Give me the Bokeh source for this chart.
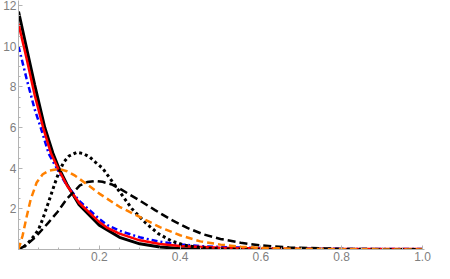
from bokeh.plotting import figure
from bokeh.models import Range1d, FixedTicker, NumeralTickFormatter
from bokeh.embed import file_html
from bokeh.resources import INLINE

# ---- data ----
solid_x = [0, 0.02, 0.04, 0.065, 0.085, 0.1, 0.12, 0.15, 0.2, 0.25, 0.3, 0.35, 0.4, 0.5, 0.6, 0.8, 1.0]
solid_y = [11.7, 9.9, 8.1, 6.0, 4.75, 4.0, 3.2, 2.2, 1.2, 0.6, 0.28, 0.12, 0.05, 0.01, 0.0, 0.0, 0.0]

red_x = [0, 0.02, 0.04, 0.061, 0.08, 0.1, 0.12, 0.15, 0.2, 0.22, 0.25, 0.3, 0.35, 0.4, 0.5, 0.6, 0.8, 1.0]
red_y = [11.1, 9.4, 7.6, 6.0, 4.75, 3.9, 3.15, 2.3, 1.35, 1.06, 0.78, 0.45, 0.27, 0.17, 0.09, 0.05, 0.03, 0.02]

blue_x = [0, 0.02, 0.04, 0.055, 0.075, 0.1, 0.12, 0.15, 0.2, 0.22, 0.25, 0.3, 0.35, 0.4, 0.45, 0.5, 0.6, 0.8, 1.0]
blue_y = [10.0, 8.4, 6.9, 6.0, 4.7, 3.8, 3.15, 2.4, 1.5, 1.2, 0.92, 0.6, 0.38, 0.25, 0.17, 0.12, 0.07, 0.03, 0.02]

orange_x = [0, 0.01, 0.02, 0.03, 0.045, 0.06, 0.075, 0.1, 0.12, 0.14, 0.17, 0.2, 0.22, 0.25, 0.3, 0.35, 0.4,
            0.45, 0.5, 0.55, 0.6, 0.7, 0.8, 1.0]
orange_y = [0, 0.67, 1.6, 2.45, 3.3, 3.7, 3.88, 3.97, 3.85, 3.63, 3.2, 2.75, 2.49, 2.1, 1.6, 1.1, 0.7,
            0.4, 0.24, 0.14, 0.08, 0.03, 0.01, 0.0]

dotted_x = [0, 0.012, 0.025, 0.04, 0.05, 0.06, 0.073, 0.09, 0.1, 0.112, 0.125, 0.144, 0.16, 0.176, 0.19, 0.208,
            0.23, 0.25, 0.28, 0.315, 0.346, 0.378, 0.41, 0.45, 0.5, 0.6, 0.7, 1.0]
dotted_y = [0, 0.1, 0.35, 0.7, 1.0, 1.5, 2.25, 3.25, 3.8, 4.3, 4.6, 4.78, 4.72, 4.55, 4.3, 4.0,
            3.4, 2.85, 2.02, 1.3, 0.78, 0.43, 0.21, 0.09, 0.03, 0.005, 0.0, 0.0]

dashed_x = [0, 0.017, 0.041, 0.073, 0.097, 0.12, 0.152, 0.17, 0.19, 0.208, 0.231, 0.25, 0.3, 0.338, 0.378,
            0.418, 0.457, 0.5, 0.55, 0.6, 0.67, 0.8, 1.0]
dashed_y = [0, 0.19, 0.59, 1.3, 1.86, 2.5, 3.15, 3.32, 3.37, 3.33, 3.2, 3.0, 2.41, 1.94, 1.46,
            1.06, 0.75, 0.52, 0.33, 0.2, 0.1, 0.03, 0.005]

x_ticks = [0.2, 0.4, 0.6, 0.8, 1.0]
x_minor = [round(0.05 * i, 2) for i in range(1, 21)]
y_ticks = [2, 4, 6, 8, 10, 12]
y_minor = [0.5 * i for i in range(1, 25)]

# ---- figure ----
p = figure(width=434, height=263, output_backend="svg", toolbar_location=None,
           x_range=Range1d(0, 1.005), y_range=Range1d(0, 12.25),
           min_border_left=0, min_border_right=10, min_border_top=0, min_border_bottom=0)
p.outline_line_color = None
p.xgrid.visible = False
p.ygrid.visible = False
p.background_fill_color = "white"
p.border_fill_color = "white"

axis_col = "#b3b3b3"
lab_col = "#7f7f7f"
for ax in (p.xaxis[0], p.yaxis[0]):
    ax.axis_label = None
    ax.axis_label_standoff = 0
    ax.axis_line_color = axis_col
    ax.axis_line_width = 1
    ax.major_tick_line_color = axis_col
    ax.minor_tick_line_color = axis_col
    ax.major_tick_in = 4
    ax.major_tick_out = 0
    ax.minor_tick_in = 2
    ax.minor_tick_out = 0
    ax.major_label_text_color = lab_col
    ax.major_label_text_font = "Liberation Sans"
    ax.major_label_text_font_size = "12px"
    ax.major_label_standoff = 2

p.xaxis[0].ticker = FixedTicker(ticks=x_ticks, minor_ticks=x_minor)
p.xaxis[0].formatter = NumeralTickFormatter(format="0.0")
p.yaxis[0].ticker = FixedTicker(ticks=y_ticks, minor_ticks=y_minor)

# ---- curves ----
p.line(solid_x, solid_y, line_color="black", line_width=3)
p.line(blue_x, blue_y, line_color="#0000ff", line_width=2.5, line_dash="6 3 2 3")
p.line(red_x, red_y, line_color="#ff0000", line_width=2.5)
p.line(dotted_x, dotted_y, line_color="black", line_width=3, line_dash="3 3")
p.line(dashed_x, dashed_y, line_color="black", line_width=2.5, line_dash="8 4")
p.line(orange_x, orange_y, line_color="#ff8000", line_width=2.5, line_dash="7 4")

open("out.html", "w").write(file_html(p, INLINE))
